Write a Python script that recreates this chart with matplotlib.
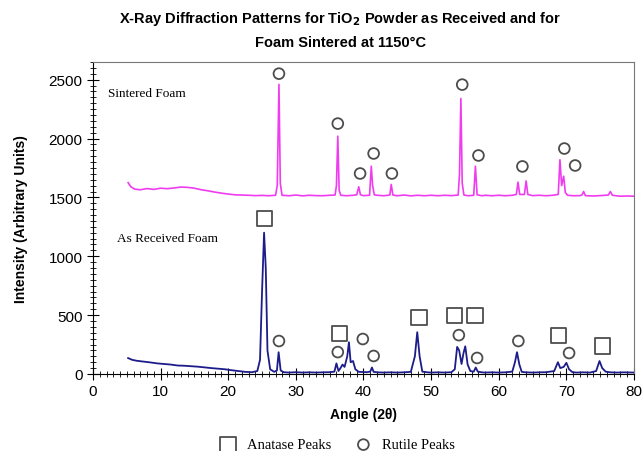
import matplotlib.pyplot as plt
from matplotlib.ticker import MultipleLocator

# Sintered foam pattern (angle 2theta, intensity)
sint_angle = [5.2, 5.6, 6.2, 7, 8, 9, 10, 11, 12, 13, 14, 15, 16, 17, 18, 19, 20, 21, 22, 23,
              24, 25, 26, 27.0, 27.25, 27.5, 27.7, 27.95, 29, 30, 31, 32, 33, 34, 35, 35.8,
              36.0, 36.2, 36.4, 36.65, 37.5, 38.5, 39.0, 39.3, 39.55, 40, 40.9, 41.15, 41.35,
              41.6, 42, 43, 43.9, 44.1, 44.35, 45, 46, 47, 48, 49, 50, 51, 52, 53, 54.0, 54.2,
              54.4, 54.6, 54.85, 55.5, 56.3, 56.55, 56.8, 57.5, 58, 59, 60, 61, 62, 62.6,
              62.85, 63.1, 63.8, 64.05, 64.3, 65, 66, 67, 68, 68.8, 69.05, 69.3, 69.6, 69.85,
              70.2, 71, 72, 72.3, 72.55, 72.8, 74, 75, 76.2, 76.5, 76.8, 78, 79, 80]
sint_int = [1625, 1590, 1570, 1565, 1575, 1568, 1578, 1574, 1580, 1588, 1585, 1578, 1565, 1556,
            1545, 1536, 1528, 1522, 1520, 1518, 1515, 1517, 1514, 1518, 1600, 2460, 1620, 1518,
            1514, 1520, 1513, 1518, 1515, 1514, 1518, 1520, 1600, 2020, 1560, 1518, 1514, 1518,
            1522, 1590, 1522, 1515, 1518, 1765, 1600, 1522, 1518, 1514, 1520, 1610, 1520, 1514,
            1520, 1513, 1518, 1514, 1518, 1514, 1518, 1515, 1520, 1700, 2340, 1620, 1520, 1514,
            1518, 1765, 1522, 1514, 1518, 1514, 1518, 1514, 1518, 1525, 1630, 1525, 1525, 1640,
            1525, 1515, 1518, 1514, 1518, 1525, 1820, 1600, 1680, 1540, 1518, 1514, 1515, 1520,
            1550, 1515, 1512, 1515, 1520, 1550, 1518, 1510, 1512, 1510]

# As received foam pattern
recv_angle = [5.2, 5.8, 6.5, 7.5, 8.5, 9.5, 10.5, 11.5, 12.5, 13.5, 14.5, 15.5, 16.5, 17.5,
              18.5, 19.5, 20.5, 21.5, 22.5, 23.5, 24.3, 24.7, 25.0, 25.3, 25.55, 25.8, 26.2,
              26.8, 27.2, 27.45, 27.75, 28.2, 29, 30, 31, 32, 33, 34, 35, 35.7, 36.0, 36.3,
              36.6, 36.9, 37.2, 37.6, 37.85, 38.1, 38.45, 38.8, 39.3, 40.5, 41.0, 41.25, 41.5,
              42, 43, 44, 45, 46, 47, 47.6, 47.95, 48.3, 48.7, 49.5, 50, 51, 52, 53, 53.5,
              53.85, 54.15, 54.5, 54.8, 55.05, 55.4, 55.8, 56.3, 56.6, 56.9, 57.5, 58, 59, 60,
              61, 62, 62.4, 62.7, 63.05, 63.4, 64, 65, 66, 67, 68.2, 68.75, 69.1, 69.6, 70.0,
              70.4, 70.9, 71.5, 72.5, 73.5, 74.4, 74.9, 75.3, 75.8, 76.5, 77.5, 78.5, 80]
recv_int = [135, 120, 112, 105, 98, 90, 85, 80, 72, 70, 66, 62, 56, 50, 45, 40, 32, 25, 18, 15,
            25, 120, 700, 1200, 900, 200, 40, 18, 30, 185, 30, 15, 12, 15, 12, 14, 12, 14, 15,
            20, 90, 25, 50, 80, 60, 150, 270, 100, 110, 40, 18, 15, 20, 55, 18, 14, 12, 14, 12,
            14, 18, 150, 355, 150, 20, 14, 12, 14, 12, 15, 40, 230, 200, 85, 180, 235, 80, 25,
            20, 55, 20, 14, 12, 14, 12, 14, 20, 100, 185, 80, 18, 14, 12, 14, 15, 25, 100, 50,
            60, 95, 40, 15, 12, 14, 12, 25, 110, 50, 20, 14, 12, 14, 12]

# Peak markers
sint_rut_angle = [27.5, 36.2, 39.5, 41.5, 44.2, 54.6, 57.0, 63.5, 69.7, 71.3]
sint_rut_int = [2551, 2127, 1703, 1873, 1703, 2458, 1856, 1763, 1915, 1771]
recv_ana_angle = [25.4, 36.4, 48.2, 53.4, 56.5, 68.8, 75.4]
recv_ana_int = [1322, 347, 483, 500, 500, 330, 237]
recv_rut_angle = [27.5, 36.2, 39.9, 41.5, 54.1, 56.8, 62.9, 70.4]
recv_rut_int = [280, 186, 297, 153, 330, 136, 280, 178]

plt.rcParams['font.family'] = ['Liberation Sans', 'DejaVu Sans']

fig = plt.figure(figsize=(6.43, 4.52), dpi=100)
ax = fig.add_axes([0.1446, 0.1704, 0.8414, 0.6902])

ax.plot(sint_angle, sint_int, color='#f03cf0', lw=1.2)
ax.plot(recv_angle, recv_int, color='#1c1c8a', lw=1.3)

mk = dict(facecolor='none', edgecolor='#4d4d4d', linewidths=1.3, zorder=5)
rut = ax.scatter(sint_rut_angle, sint_rut_int, marker='o', s=60, **mk)
ax.scatter(recv_rut_angle, recv_rut_int, marker='o', s=60, **mk)
ana = ax.scatter(recv_ana_angle, recv_ana_int, marker='s', s=120, **mk)

ax.set_xlim(0, 80)
ax.set_ylim(0, 2650)
ax.xaxis.set_major_locator(MultipleLocator(10))
ax.xaxis.set_minor_locator(MultipleLocator(1))
ax.yaxis.set_major_locator(MultipleLocator(500))
ax.yaxis.set_minor_locator(MultipleLocator(50))
ax.tick_params(which='major', direction='inout', length=8, width=0.8, labelsize=11)
ax.tick_params(which='minor', direction='inout', length=4, width=0.6)
for s in ['top', 'right']:
    ax.spines[s].set_color('#777777')

ax.text(2.2, 2365, 'Sintered Foam', family='Liberation Serif', fontsize=9.5)
ax.text(3.5, 1130, 'As Received Foam', family='Liberation Serif', fontsize=9.5)

ax.set_xlabel('Angle (2\u03b8)', fontsize=10, fontweight='bold', labelpad=6)
ax.set_ylabel('Intensity (Arbitrary Units)', fontsize=10, fontweight='bold', labelpad=15)
fig.text(0.529, 0.978, 'X-Ray Diffraction Patterns for TiO$_\\mathbf{2}$ Powder as Received and for\n'
         'Foam Sintered at 1150\u00b0C', ha='center', va='top', fontsize=10.5,
         fontweight='bold', linespacing=1.75)

fig.legend([ana, rut], ['Anatase Peaks', 'Rutile Peaks'], loc='lower center',
           bbox_to_anchor=(0.52, -0.03), ncol=2, frameon=False, handletextpad=0.3,
           columnspacing=1.2, prop={'family': 'Liberation Serif', 'size': 10.5})

fig.savefig('out.png', dpi=100)
